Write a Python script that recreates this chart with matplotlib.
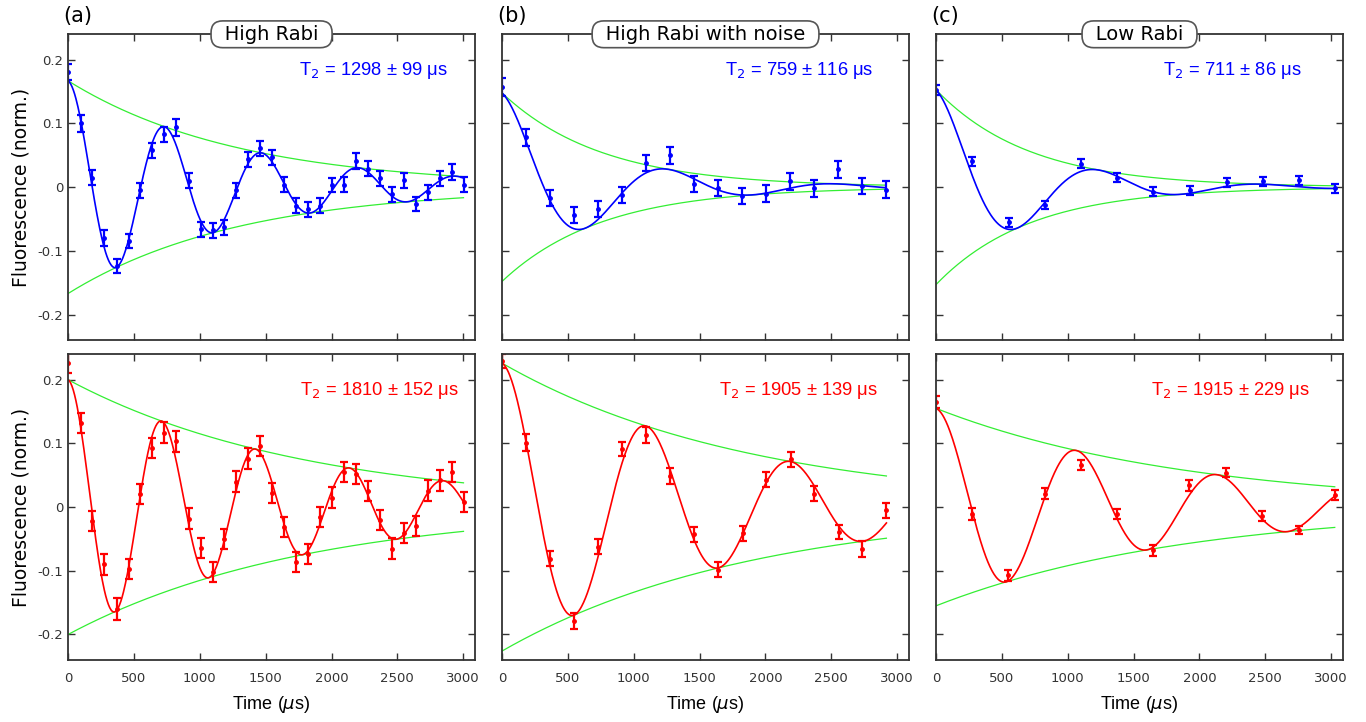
import numpy as np
import matplotlib.pyplot as plt

# data: time (us), fluorescence (norm.), error
t_a_hi = [0, 96, 185, 276, 369, 460, 549, 640, 731, 822, 916, 1007, 1098, 1186, 1277, 1368, 1459,
          1550, 1641, 1732, 1824, 1915, 2006, 2092, 2183, 2274, 2365, 2456, 2547, 2638, 2729, 2820,
          2911, 3002]
y_a_hi = [0.181, 0.100, 0.015, -0.080, -0.124, -0.084, -0.005, 0.058, 0.083, 0.094, 0.010, -0.066,
          -0.068, -0.063, -0.005, 0.044, 0.061, 0.047, 0.004, -0.029, -0.035, -0.029, 0.004, 0.004,
          0.041, 0.029, 0.014, -0.011, 0.011, -0.027, -0.008, 0.014, 0.024, 0.004]
e_a_hi = [0.013, 0.013, 0.012, 0.012, 0.011, 0.011, 0.012, 0.012, 0.012, 0.013, 0.012, 0.012,
          0.012, 0.012, 0.012, 0.012, 0.012, 0.012, 0.012, 0.012, 0.012, 0.012, 0.011, 0.012,
          0.012, 0.012, 0.012, 0.012, 0.012, 0.011, 0.012, 0.012, 0.012, 0.012]

t_b_hi = [0, 182, 365, 547, 727, 912, 1092, 1277, 1459, 1639, 1824, 2004, 2188, 2368, 2553, 2733, 2915]
y_b_hi = [0.157, 0.078, -0.017, -0.044, -0.034, -0.012, 0.038, 0.050, 0.005, -0.001, -0.014,
          -0.010, 0.009, -0.002, 0.028, 0.002, -0.004]
e_b_hi = [0.014, 0.014, 0.013, 0.013, 0.013, 0.013, 0.013, 0.013, 0.013, 0.013, 0.013, 0.013,
          0.013, 0.013, 0.013, 0.013, 0.013]

t_c_hi = [0, 274, 555, 827, 1098, 1374, 1651, 1930, 2206, 2480, 2754, 3027]
y_c_hi = [0.152, 0.041, -0.055, -0.028, 0.037, 0.015, -0.007, -0.005, 0.008, 0.009, 0.011, -0.002]
e_c_hi = [0.008, 0.007, 0.007, 0.007, 0.007, 0.007, 0.007, 0.007, 0.007, 0.007, 0.007, 0.007]

t_a_lo = t_a_hi
y_a_lo = [0.226, 0.132, -0.022, -0.090, -0.160, -0.097, 0.021, 0.093, 0.117, 0.103, -0.018, -0.064,
          -0.102, -0.050, 0.040, 0.076, 0.096, 0.022, -0.031, -0.086, -0.074, -0.016, 0.015, 0.055,
          0.052, 0.025, -0.020, -0.065, -0.041, -0.030, 0.026, 0.042, 0.055, 0.008]
e_a_lo = [0.016, 0.015, 0.016, 0.016, 0.017, 0.016, 0.016, 0.016, 0.016, 0.016, 0.016, 0.016,
          0.016, 0.016, 0.016, 0.016, 0.016, 0.016, 0.016, 0.016, 0.016, 0.016, 0.016, 0.016,
          0.016, 0.016, 0.016, 0.016, 0.016, 0.016, 0.016, 0.016, 0.016, 0.016]

t_b_lo = [0, 185, 367, 550, 729, 914, 1094, 1279, 1461, 1641, 1826, 2006, 2191, 2371, 2556, 2735, 2918]
y_b_lo = [0.229, 0.101, -0.081, -0.179, -0.062, 0.091, 0.113, 0.049, -0.043, -0.098, -0.041,
          0.043, 0.075, 0.021, -0.039, -0.066, -0.005]
e_b_lo = [0.011, 0.013, 0.012, 0.012, 0.012, 0.011, 0.013, 0.012, 0.012, 0.012, 0.012, 0.012,
          0.012, 0.012, 0.011, 0.012, 0.012]

t_c_lo = [0, 274, 548, 827, 1100, 1374, 1651, 1924, 2201, 2477, 2754, 3027]
y_c_lo = [0.165, -0.011, -0.107, 0.021, 0.066, -0.011, -0.068, 0.034, 0.054, -0.014, -0.036, 0.019]
e_c_lo = [0.009, 0.009, 0.009, 0.009, 0.008, 0.008, 0.008, 0.008, 0.007, 0.008, 0.007, 0.008]

# fit parameters: amplitude, T2 (us), oscillation period (us)
fit_a_hi = (0.167, 1298, 735)
fit_b_hi = (0.148, 759, 1270)
fit_c_hi = (0.153, 711, 1240)
fit_a_lo = (0.200, 1810, 712)
fit_b_lo = (0.226, 1905, 1095)
fit_c_lo = (0.155, 1915, 1066)

t2_labels = ['1298 ± 99', '759 ± 116', '711 ± 86', '1810 ± 152', '1905 ± 139', '1915 ± 229']
t2_xpos = [0.934, 0.912, 0.897, 0.961, 0.924, 0.919]
titles = ['High Rabi', 'High Rabi with noise', 'Low Rabi']
letters = ['(a)', '(b)', '(c)']

panels = [
    (t_a_hi, y_a_hi, e_a_hi, fit_a_hi), (t_b_hi, y_b_hi, e_b_hi, fit_b_hi), (t_c_hi, y_c_hi, e_c_hi, fit_c_hi),
    (t_a_lo, y_a_lo, e_a_lo, fit_a_lo), (t_b_lo, y_b_lo, e_b_lo, fit_b_lo), (t_c_lo, y_c_lo, e_c_lo, fit_c_lo),
]

fig = plt.figure(figsize=(13.66, 7.22), dpi=100)
lefts = [0.0498, 0.3675, 0.6852]
bottoms = [0.529, 0.0859]
w, h = 0.298, 0.4235

for i, (t, y, e, fit) in enumerate(panels):
    row, col = divmod(i, 3)
    ax = fig.add_axes([lefts[col], bottoms[row], w, h])
    color = 'blue' if row == 0 else 'red'
    A, T2, P = fit
    tt = np.linspace(0, t[-1], 600)
    env = A * np.exp(-tt / T2)
    ax.plot(tt, env, color='#33ee33', lw=0.9)
    ax.plot(tt, -env, color='#33ee33', lw=0.9)
    ax.plot(tt, env * np.cos(2 * np.pi * tt / P), color=color, lw=1.2)
    ax.errorbar(t, y, yerr=e, fmt='o', color=color, ms=2.5, elinewidth=1.6,
                capsize=2.8, capthick=1.6)
    ax.set_xlim(0, 3090)
    ax.set_ylim(-0.24, 0.24)
    ax.set_xticks([0, 500, 1000, 1500, 2000, 2500, 3000])
    ax.set_yticks([-0.2, -0.1, 0, 0.1, 0.2])
    ax.tick_params(direction='in', top=True, right=True, length=5, width=1,
                   color='#333333', labelsize=9.5, labelcolor='#333333')
    for s in ax.spines.values():
        s.set_color('#333333')
        s.set_linewidth(1.3)
    if col == 0:
        ax.set_yticklabels(['-0.2', '-0.1', '0', '0.1', '0.2'])
        ax.set_ylabel('Fluorescence (norm.)', fontsize=13.5, labelpad=5)
    else:
        ax.set_yticklabels([])
    if row == 1:
        ax.set_xlabel(r'Time ($\mu$s)', fontsize=13, family='Liberation Sans', labelpad=6)
        ax.tick_params(axis='x', pad=9)
    else:
        ax.set_xticklabels([])
        ax.text(0.5, 1.0, '\u2002' + titles[col] + '\u2002', transform=ax.transAxes,
                ha='center', va='center', fontsize=14,
                bbox=dict(boxstyle='round,pad=0.2,rounding_size=0.6',
                          fc='white', ec='#555555', lw=1.2))
        ax.text(-0.012, 1.059, letters[col], transform=ax.transAxes, ha='left', va='center',
                fontsize=15)
    ax.text(t2_xpos[i], 0.88, r'T$_2$ = ' + t2_labels[i] + ' μs',
            transform=ax.transAxes, ha='right', va='center', fontsize=13.2,
            color=color, family='Liberation Sans')

fig.savefig('out.png', dpi=100)
